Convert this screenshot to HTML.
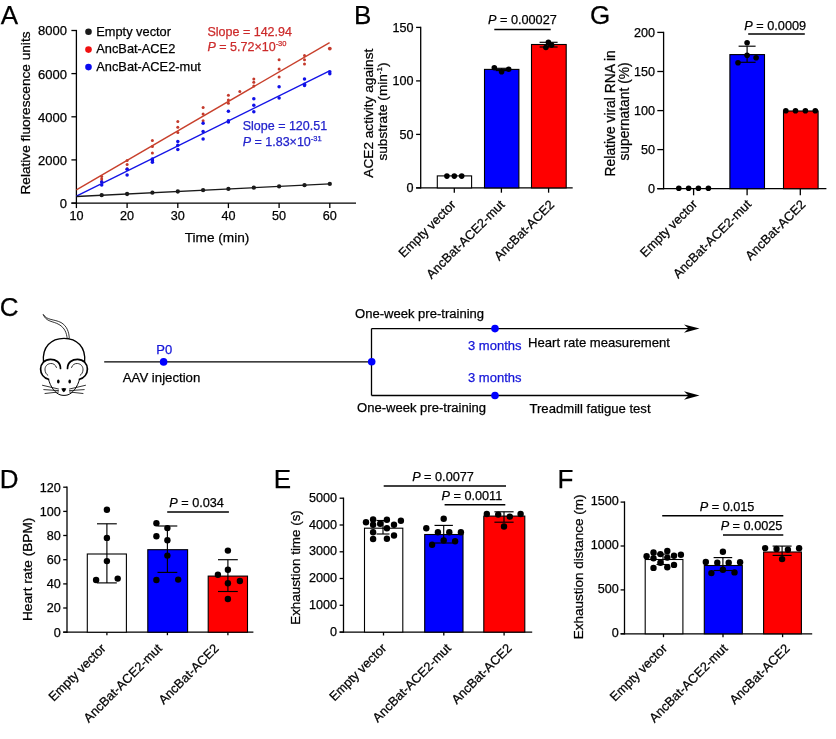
<!DOCTYPE html>
<html lang="en"><head><meta charset="utf-8"><title>Figure</title>
<style>
html,body{margin:0;padding:0;background:#fff;}
body{width:836px;height:739px;overflow:hidden;}
svg{display:block;font-family:"Liberation Sans",sans-serif;}
svg text{stroke-width:0.25px;paint-order:stroke fill;}
</style></head><body>
<svg width="836" height="739" viewBox="0 0 836 739">
<rect x="0" y="0" width="836" height="739" fill="#fff"/>
<text x="0.8" y="23.8" font-size="26" text-anchor="start" fill="#000" stroke="#000" >A</text>
<line x1="76.4" y1="29.9" x2="76.4" y2="203.8" stroke="#000" stroke-width="1.3" />
<line x1="71.4" y1="203.1" x2="76.4" y2="203.1" stroke="#000" stroke-width="1.3" />
<text x="66.9" y="208.0" font-size="13.0" text-anchor="end" fill="#000" stroke="#000" >0</text>
<line x1="71.4" y1="159.9" x2="76.4" y2="159.9" stroke="#000" stroke-width="1.3" />
<text x="66.9" y="164.8" font-size="13.0" text-anchor="end" fill="#000" stroke="#000" >2000</text>
<line x1="71.4" y1="116.8" x2="76.4" y2="116.8" stroke="#000" stroke-width="1.3" />
<text x="66.9" y="121.7" font-size="13.0" text-anchor="end" fill="#000" stroke="#000" >4000</text>
<line x1="71.4" y1="73.6" x2="76.4" y2="73.6" stroke="#000" stroke-width="1.3" />
<text x="66.9" y="78.5" font-size="13.0" text-anchor="end" fill="#000" stroke="#000" >6000</text>
<line x1="71.4" y1="30.5" x2="76.4" y2="30.5" stroke="#000" stroke-width="1.3" />
<text x="66.9" y="35.4" font-size="13.0" text-anchor="end" fill="#000" stroke="#000" >8000</text>
<line x1="71.4" y1="203.1" x2="356.0" y2="203.1" stroke="#000" stroke-width="1.3" />
<line x1="76.4" y1="203.1" x2="76.4" y2="208.1" stroke="#000" stroke-width="1.3" />
<text x="76.4" y="220.0" font-size="12.6" text-anchor="middle" fill="#000" stroke="#000" >10</text>
<line x1="127.1" y1="203.1" x2="127.1" y2="208.1" stroke="#000" stroke-width="1.3" />
<text x="127.1" y="220.0" font-size="12.6" text-anchor="middle" fill="#000" stroke="#000" >20</text>
<line x1="177.8" y1="203.1" x2="177.8" y2="208.1" stroke="#000" stroke-width="1.3" />
<text x="177.8" y="220.0" font-size="12.6" text-anchor="middle" fill="#000" stroke="#000" >30</text>
<line x1="228.4" y1="203.1" x2="228.4" y2="208.1" stroke="#000" stroke-width="1.3" />
<text x="228.4" y="220.0" font-size="12.6" text-anchor="middle" fill="#000" stroke="#000" >40</text>
<line x1="279.1" y1="203.1" x2="279.1" y2="208.1" stroke="#000" stroke-width="1.3" />
<text x="279.1" y="220.0" font-size="12.6" text-anchor="middle" fill="#000" stroke="#000" >50</text>
<line x1="329.8" y1="203.1" x2="329.8" y2="208.1" stroke="#000" stroke-width="1.3" />
<text x="329.8" y="220.0" font-size="12.6" text-anchor="middle" fill="#000" stroke="#000" >60</text>
<text x="217.0" y="241.5" font-size="13.65" text-anchor="middle" fill="#000" stroke="#000" >Time (min)</text>
<text transform="translate(30.0,113.0) rotate(-90)" font-size="13.65" text-anchor="middle" fill="#000" stroke="#000">Relative fluorescence units</text>
<circle cx="88.5" cy="31.8" r="3.3" fill="#1a1a1a"/>
<text x="96.3" y="36.3" font-size="12.8" text-anchor="start" fill="#000" stroke="#000" >Empty vector</text>
<circle cx="88.5" cy="49.6" r="3.3" fill="#f01010"/>
<text x="96.3" y="53.1" font-size="12.8" text-anchor="start" fill="#000" stroke="#000" >AncBat-ACE2</text>
<circle cx="88.5" cy="67.1" r="3.3" fill="#0a0af0"/>
<text x="96.3" y="70.6" font-size="12.8" text-anchor="start" fill="#000" stroke="#000" >AncBat-ACE2-mut</text>
<circle cx="101.7" cy="176.4" r="1.5" fill="#c43a2c"/>
<circle cx="101.7" cy="179.0" r="1.5" fill="#c43a2c"/>
<circle cx="101.7" cy="181.6" r="1.5" fill="#c43a2c"/>
<circle cx="127.1" cy="160.5" r="1.5" fill="#c43a2c"/>
<circle cx="127.1" cy="164.6" r="1.5" fill="#c43a2c"/>
<circle cx="127.1" cy="168.7" r="1.5" fill="#c43a2c"/>
<circle cx="152.4" cy="140.4" r="1.5" fill="#c43a2c"/>
<circle cx="152.4" cy="146.6" r="1.5" fill="#c43a2c"/>
<circle cx="152.4" cy="153.0" r="1.5" fill="#c43a2c"/>
<circle cx="177.8" cy="121.4" r="1.5" fill="#c43a2c"/>
<circle cx="177.8" cy="127.3" r="1.5" fill="#c43a2c"/>
<circle cx="177.8" cy="132.4" r="1.5" fill="#c43a2c"/>
<circle cx="203.1" cy="107.5" r="1.5" fill="#c43a2c"/>
<circle cx="203.1" cy="113.9" r="1.5" fill="#c43a2c"/>
<circle cx="203.1" cy="120.8" r="1.5" fill="#c43a2c"/>
<circle cx="228.4" cy="95.2" r="1.5" fill="#c43a2c"/>
<circle cx="228.4" cy="100.0" r="1.5" fill="#c43a2c"/>
<circle cx="228.4" cy="103.3" r="1.5" fill="#c43a2c"/>
<circle cx="253.8" cy="78.9" r="1.5" fill="#c43a2c"/>
<circle cx="253.8" cy="82.3" r="1.5" fill="#c43a2c"/>
<circle cx="253.8" cy="86.1" r="1.5" fill="#c43a2c"/>
<circle cx="279.1" cy="59.8" r="1.5" fill="#c43a2c"/>
<circle cx="279.1" cy="68.9" r="1.5" fill="#c43a2c"/>
<circle cx="279.1" cy="77.0" r="1.5" fill="#c43a2c"/>
<circle cx="304.5" cy="55.5" r="1.5" fill="#c43a2c"/>
<circle cx="304.5" cy="59.8" r="1.5" fill="#c43a2c"/>
<circle cx="304.5" cy="63.9" r="1.5" fill="#c43a2c"/>
<circle cx="239.8" cy="91.6" r="1.5" fill="#c43a2c"/>
<circle cx="329.8" cy="48.6" r="1.9" fill="#c43a2c"/>
<circle cx="101.7" cy="182.1" r="1.75" fill="#1010e8"/>
<circle cx="101.7" cy="184.9" r="1.75" fill="#1010e8"/>
<circle cx="127.1" cy="169.2" r="1.75" fill="#1010e8"/>
<circle cx="127.1" cy="174.9" r="1.75" fill="#1010e8"/>
<circle cx="152.4" cy="158.9" r="1.75" fill="#1010e8"/>
<circle cx="152.4" cy="160.7" r="1.75" fill="#1010e8"/>
<circle cx="152.4" cy="162.3" r="1.75" fill="#1010e8"/>
<circle cx="177.8" cy="141.4" r="1.75" fill="#1010e8"/>
<circle cx="177.8" cy="145.3" r="1.75" fill="#1010e8"/>
<circle cx="177.8" cy="149.4" r="1.75" fill="#1010e8"/>
<circle cx="203.1" cy="123.2" r="1.75" fill="#1010e8"/>
<circle cx="203.1" cy="131.4" r="1.75" fill="#1010e8"/>
<circle cx="203.1" cy="138.9" r="1.75" fill="#1010e8"/>
<circle cx="228.4" cy="111.2" r="1.75" fill="#1010e8"/>
<circle cx="228.4" cy="120.8" r="1.75" fill="#1010e8"/>
<circle cx="228.4" cy="122.0" r="1.75" fill="#1010e8"/>
<circle cx="253.8" cy="98.8" r="1.75" fill="#1010e8"/>
<circle cx="253.8" cy="105.3" r="1.75" fill="#1010e8"/>
<circle cx="253.8" cy="111.7" r="1.75" fill="#1010e8"/>
<circle cx="279.1" cy="86.8" r="1.75" fill="#1010e8"/>
<circle cx="279.1" cy="98.1" r="1.75" fill="#1010e8"/>
<circle cx="304.5" cy="78.9" r="1.75" fill="#1010e8"/>
<circle cx="304.5" cy="84.2" r="1.75" fill="#1010e8"/>
<circle cx="304.5" cy="85.6" r="1.75" fill="#1010e8"/>
<circle cx="329.8" cy="71.8" r="1.75" fill="#1010e8"/>
<circle cx="329.8" cy="73.7" r="1.75" fill="#1010e8"/>
<line x1="76.4" y1="189.8" x2="329.6" y2="42.6" stroke="#c8402c" stroke-width="1.4" />
<line x1="76.4" y1="196.2" x2="329.6" y2="70.8" stroke="#1414e6" stroke-width="1.4" />
<line x1="76.4" y1="196.5" x2="329.8" y2="183.9" stroke="#1a1a1a" stroke-width="1.3" />
<circle cx="101.7" cy="195.2" r="2.15" fill="#1a1a1a"/>
<circle cx="127.1" cy="194.0" r="2.15" fill="#1a1a1a"/>
<circle cx="152.4" cy="192.7" r="2.15" fill="#1a1a1a"/>
<circle cx="177.8" cy="191.5" r="2.15" fill="#1a1a1a"/>
<circle cx="203.1" cy="190.2" r="2.15" fill="#1a1a1a"/>
<circle cx="228.4" cy="188.9" r="2.15" fill="#1a1a1a"/>
<circle cx="253.8" cy="187.7" r="2.15" fill="#1a1a1a"/>
<circle cx="279.1" cy="186.4" r="2.15" fill="#1a1a1a"/>
<circle cx="304.5" cy="185.2" r="2.15" fill="#1a1a1a"/>
<circle cx="329.8" cy="183.9" r="2.15" fill="#1a1a1a"/>
<text x="207.5" y="36.1" font-size="12.5" text-anchor="start" fill="#cc2a2a" stroke="#cc2a2a" >Slope = 142.94</text>
<text x="207.5" y="51.2" font-size="12.5" fill="#cc2a2a" stroke="#cc2a2a"><tspan font-style="italic">P</tspan> = 5.72×10<tspan font-size="7.5" dy="-5">-30</tspan></text>
<text x="242.7" y="129.9" font-size="12.5" text-anchor="start" fill="#2222cc" stroke="#2222cc" >Slope = 120.51</text>
<text x="242.7" y="145.7" font-size="12.5" fill="#2222cc" stroke="#2222cc"><tspan font-style="italic">P</tspan> = 1.83×10<tspan font-size="7.5" dy="-5">-31</tspan></text>
<text x="353.9" y="23.8" font-size="26" text-anchor="start" fill="#000" stroke="#000" >B</text>
<line x1="420.7" y1="26.8" x2="420.7" y2="188.6" stroke="#000" stroke-width="1.3" />
<line x1="416.1" y1="187.9" x2="420.7" y2="187.9" stroke="#000" stroke-width="1.3" />
<text x="413.5" y="192.3" font-size="12.6" text-anchor="end" fill="#000" stroke="#000" >0</text>
<line x1="416.1" y1="134.4" x2="420.7" y2="134.4" stroke="#000" stroke-width="1.3" />
<text x="413.5" y="138.8" font-size="12.6" text-anchor="end" fill="#000" stroke="#000" >50</text>
<line x1="416.1" y1="80.9" x2="420.7" y2="80.9" stroke="#000" stroke-width="1.3" />
<text x="413.5" y="85.3" font-size="12.6" text-anchor="end" fill="#000" stroke="#000" >100</text>
<line x1="416.1" y1="27.4" x2="420.7" y2="27.4" stroke="#000" stroke-width="1.3" />
<text x="413.5" y="31.8" font-size="12.6" text-anchor="end" fill="#000" stroke="#000" >150</text>
<line x1="416.1" y1="187.9" x2="572.7" y2="187.9" stroke="#000" stroke-width="1.3" />
<line x1="454.3" y1="187.9" x2="454.3" y2="192.7" stroke="#000" stroke-width="1.3" />
<line x1="501.4" y1="187.9" x2="501.4" y2="192.7" stroke="#000" stroke-width="1.3" />
<line x1="548.6" y1="187.9" x2="548.6" y2="192.7" stroke="#000" stroke-width="1.3" />
<rect x="437.3" y="175.9" width="34.3" height="12.0" fill="#fff" stroke="#000" stroke-width="1.1"/>
<rect x="484.5" y="69.4" width="34.4" height="118.5" fill="#0000ff" stroke="#000" stroke-width="1.1"/>
<rect x="531.5" y="44.5" width="34.7" height="143.4" fill="#ff0000" stroke="#000" stroke-width="1.1"/>
<circle cx="446.9" cy="176.1" r="2.8" fill="#000"/>
<circle cx="454.3" cy="176.1" r="2.8" fill="#000"/>
<circle cx="461.7" cy="176.1" r="2.8" fill="#000"/>
<line x1="501.6" y1="68.3" x2="501.6" y2="70.6" stroke="#000" stroke-width="1.15" />
<line x1="495.6" y1="68.3" x2="507.6" y2="68.3" stroke="#000" stroke-width="1.15" />
<line x1="495.6" y1="70.6" x2="507.6" y2="70.6" stroke="#000" stroke-width="1.15" />
<circle cx="494.3" cy="67.7" r="2.8" fill="#000"/>
<circle cx="501.6" cy="71.8" r="2.8" fill="#000"/>
<circle cx="508.7" cy="69.2" r="2.8" fill="#000"/>
<line x1="548.6" y1="42.3" x2="548.6" y2="47.0" stroke="#000" stroke-width="1.15" />
<line x1="539.6" y1="42.3" x2="557.6" y2="42.3" stroke="#000" stroke-width="1.15" />
<line x1="539.6" y1="47.0" x2="557.6" y2="47.0" stroke="#000" stroke-width="1.15" />
<circle cx="548.4" cy="42.3" r="2.8" fill="#000"/>
<circle cx="551.6" cy="45.1" r="2.8" fill="#000"/>
<circle cx="545.9" cy="47.5" r="2.8" fill="#000"/>
<line x1="494.3" y1="29.4" x2="550.7" y2="29.4" stroke="#000" stroke-width="1.5" />
<text x="522.4" y="23.6" font-size="12.7" text-anchor="middle" fill="#000" stroke="#000"><tspan font-style="italic">P</tspan> = 0.00027</text>
<text transform="translate(456.6,205.5) rotate(-45)" font-size="12.8" text-anchor="end" fill="#000" stroke="#000">Empty vector</text>
<text transform="translate(505.4,205.5) rotate(-45)" font-size="12.8" text-anchor="end" fill="#000" stroke="#000">AncBat-ACE2-mut</text>
<text transform="translate(555.1,205.5) rotate(-45)" font-size="12.8" text-anchor="end" fill="#000" stroke="#000">AncBat-ACE2</text>
<text transform="translate(372.6,113.2) rotate(-90)" font-size="13.65" text-anchor="middle" fill="#000" stroke="#000">ACE2 activity against</text>
<text transform="translate(387.2,111.5) rotate(-90)" font-size="13.65" text-anchor="middle" fill="#000" stroke="#000">substrate (min<tspan font-size="8" dy="-5">-1</tspan><tspan dy="5">)</tspan></text>
<text x="589.9" y="24.0" font-size="26" text-anchor="start" fill="#000" stroke="#000" >G</text>
<line x1="663.6" y1="31.8" x2="663.6" y2="189.3" stroke="#000" stroke-width="1.3" />
<line x1="657.3" y1="188.7" x2="663.6" y2="188.7" stroke="#000" stroke-width="1.3" />
<text x="655.0" y="193.0" font-size="12.6" text-anchor="end" fill="#000" stroke="#000" >0</text>
<line x1="657.3" y1="149.6" x2="663.6" y2="149.6" stroke="#000" stroke-width="1.3" />
<text x="655.0" y="153.9" font-size="12.6" text-anchor="end" fill="#000" stroke="#000" >50</text>
<line x1="657.3" y1="110.6" x2="663.6" y2="110.6" stroke="#000" stroke-width="1.3" />
<text x="655.0" y="114.9" font-size="12.6" text-anchor="end" fill="#000" stroke="#000" >100</text>
<line x1="657.3" y1="71.5" x2="663.6" y2="71.5" stroke="#000" stroke-width="1.3" />
<text x="655.0" y="75.8" font-size="12.6" text-anchor="end" fill="#000" stroke="#000" >150</text>
<line x1="657.3" y1="32.4" x2="663.6" y2="32.4" stroke="#000" stroke-width="1.3" />
<text x="655.0" y="36.7" font-size="12.6" text-anchor="end" fill="#000" stroke="#000" >200</text>
<line x1="657.3" y1="188.7" x2="826.4" y2="188.7" stroke="#000" stroke-width="1.3" />
<line x1="693.6" y1="188.7" x2="693.6" y2="195.3" stroke="#000" stroke-width="1.3" />
<line x1="747.1" y1="188.7" x2="747.1" y2="195.3" stroke="#000" stroke-width="1.3" />
<line x1="800.3" y1="188.7" x2="800.3" y2="195.3" stroke="#000" stroke-width="1.3" />
<rect x="729.9" y="54.6" width="34.6" height="134.1" fill="#0000ff" stroke="#000" stroke-width="1.1"/>
<rect x="783.5" y="111.0" width="34.6" height="77.7" fill="#ff0000" stroke="#000" stroke-width="1.1"/>
<circle cx="678.8" cy="188.2" r="2.8" fill="#000"/>
<circle cx="688.6" cy="188.2" r="2.8" fill="#000"/>
<circle cx="698.4" cy="188.2" r="2.8" fill="#000"/>
<circle cx="708.4" cy="188.2" r="2.8" fill="#000"/>
<line x1="747.1" y1="46.2" x2="747.1" y2="62.3" stroke="#000" stroke-width="1.15" />
<line x1="738.6" y1="46.2" x2="755.6" y2="46.2" stroke="#000" stroke-width="1.15" />
<line x1="738.6" y1="62.3" x2="755.6" y2="62.3" stroke="#000" stroke-width="1.15" />
<circle cx="747.1" cy="42.7" r="2.8" fill="#000"/>
<circle cx="747.1" cy="55.2" r="2.8" fill="#000"/>
<circle cx="756.1" cy="57.8" r="2.8" fill="#000"/>
<circle cx="738.0" cy="62.8" r="2.8" fill="#000"/>
<circle cx="785.8" cy="110.8" r="2.8" fill="#000"/>
<circle cx="795.5" cy="110.8" r="2.8" fill="#000"/>
<circle cx="805.4" cy="110.8" r="2.8" fill="#000"/>
<circle cx="815.3" cy="110.8" r="2.8" fill="#000"/>
<line x1="748.2" y1="33.9" x2="804.8" y2="33.9" stroke="#000" stroke-width="1.5" />
<text x="775.2" y="30.3" font-size="12.7" text-anchor="middle" fill="#000" stroke="#000"><tspan font-style="italic">P</tspan> = 0.0009</text>
<text transform="translate(698.0,205.1) rotate(-45)" font-size="12.8" text-anchor="end" fill="#000" stroke="#000">Empty vector</text>
<text transform="translate(752.1,205.1) rotate(-45)" font-size="12.8" text-anchor="end" fill="#000" stroke="#000">AncBat-ACE2-mut</text>
<text transform="translate(806.3,205.1) rotate(-45)" font-size="12.8" text-anchor="end" fill="#000" stroke="#000">AncBat-ACE2</text>
<text transform="translate(615.4,113.3) rotate(-90)" font-size="13.85" text-anchor="middle" fill="#000" stroke="#000">Relative viral RNA in</text>
<text transform="translate(628.6,111.5) rotate(-90)" font-size="13.8" text-anchor="middle" fill="#000" stroke="#000">supernatant (%)</text>
<text x="-0.2" y="316.2" font-size="26" text-anchor="start" fill="#000" stroke="#000" >C</text>
<line x1="104.2" y1="361.9" x2="371.5" y2="361.9" stroke="#000" stroke-width="1.3" />
<line x1="371.5" y1="328.6" x2="371.5" y2="395.5" stroke="#000" stroke-width="1.3" />
<line x1="371.5" y1="328.6" x2="690.0" y2="328.6" stroke="#000" stroke-width="1.3" />
<line x1="371.5" y1="395.5" x2="690.0" y2="395.5" stroke="#000" stroke-width="1.3" />
<path d="M699.5 328.6 L684 324.40000000000003 L688.5 328.6 L684 332.8 Z" fill="#000"/>
<path d="M699.5 395.5 L684 391.3 L688.5 395.5 L684 399.7 Z" fill="#000"/>
<circle cx="163.6" cy="361.9" r="3.8" fill="#0000ff"/>
<circle cx="371.7" cy="361.7" r="3.8" fill="#0000ff"/>
<circle cx="495.0" cy="328.6" r="3.8" fill="#0000ff"/>
<circle cx="495.0" cy="395.5" r="3.8" fill="#0000ff"/>
<text x="164.2" y="353.7" font-size="13" text-anchor="middle" fill="#1414d8" stroke="#1414d8" >P0</text>
<text x="122.8" y="381.8" font-size="13.2" text-anchor="start" fill="#000" stroke="#000" >AAV injection</text>
<text x="355.0" y="318.0" font-size="13.05" text-anchor="start" fill="#000" stroke="#000" >One-week pre-training</text>
<text x="357.0" y="412.0" font-size="13.05" text-anchor="start" fill="#000" stroke="#000" >One-week pre-training</text>
<text x="468.0" y="350.0" font-size="13" text-anchor="start" fill="#1414d8" stroke="#1414d8" >3 months</text>
<text x="468.0" y="381.5" font-size="13" text-anchor="start" fill="#1414d8" stroke="#1414d8" >3 months</text>
<text x="528.0" y="346.5" font-size="13.1" text-anchor="start" fill="#000" stroke="#000" >Heart rate measurement</text>
<text x="529.5" y="412.8" font-size="13.1" text-anchor="start" fill="#000" stroke="#000" >Treadmill fatigue test</text>
<g fill="none" stroke="#000" stroke-width="1.1" stroke-linecap="round" stroke-linejoin="round">
<path d="M43.4 314.8 C46 322 53 321 59 324.5 C65 328 66.5 333 67.2 338.5 L69.3 338.5 C69 332 67 326 61 322.5 C54 319 47 320.5 43.4 314.8 Z" stroke-width="0.8"/>
<path d="M43.5 362 C42 347 51 338.3 64 338.3 C77 338.3 86 347 84.6 362" stroke-width="1.3"/>
<path d="M60.5 368.5 C60.5 362 55.5 359.3 50.5 359.3 C44.5 359.3 40.6 364 40.6 369 C40.6 374 43.8 378 48.5 379.3" stroke-width="1.7"/>
<path d="M67.5 368.5 C67.5 362 72.5 359.3 77.5 359.3 C83.5 359.3 87.4 364 87.4 369 C87.4 374 84.2 378 79.5 379.3" stroke-width="1.7"/>
<path d="M56.5 367.5 C55.5 364.5 53 363.3 50.6 363.5 C47 363.8 44.8 366.5 45 370 C45.2 372.5 46.3 374.3 47.8 375.3" stroke-width="0.8"/>
<path d="M71.5 367.5 C72.5 364.5 75 363.3 77.4 363.5 C81 363.8 83.2 366.5 83 370 C82.800 372.5 81.7 374.3 80.2 375.3" stroke-width="0.8"/>
<path d="M48.5 379.3 C50.5 387 55 393 60 394.8 C62.5 395.6 65.5 395.6 68 394.8 C73 393 77.500 387 79.5 379.3" stroke-width="1"/>
<path d="M42.5 385.3 L58.5 389 M43.8 389.6 L58.5 390.6 M45 393.5 L58.5 392" stroke-width="0.8"/>
<path d="M85.5 385.3 L69.5 389 M84.2 389.6 L69.5 390.6 M83 393.5 L69.5 392" stroke-width="0.8"/>
</g>
<ellipse cx="58.3" cy="381.4" rx="1.3" ry="2" fill="#000"/><ellipse cx="69.7" cy="381.4" rx="1.3" ry="2" fill="#000"/>
<path d="M61.3 388.6 Q63.8 387.6 66.300 388.6 Q65.300 391.8 63.8 392.200 Q62.3 391.8 61.3 388.6 Z" fill="#000"/>
<text x="-0.2" y="488.1" font-size="26" text-anchor="start" fill="#000" stroke="#000" >D</text>
<line x1="67.0" y1="486.6" x2="67.0" y2="632.9" stroke="#000" stroke-width="1.3" />
<line x1="63.2" y1="632.2" x2="67.0" y2="632.2" stroke="#000" stroke-width="1.3" />
<text x="60.8" y="636.6" font-size="12.6" text-anchor="end" fill="#000" stroke="#000" >0</text>
<line x1="63.2" y1="608.0" x2="67.0" y2="608.0" stroke="#000" stroke-width="1.3" />
<text x="60.8" y="612.4" font-size="12.6" text-anchor="end" fill="#000" stroke="#000" >20</text>
<line x1="63.2" y1="583.9" x2="67.0" y2="583.9" stroke="#000" stroke-width="1.3" />
<text x="60.8" y="588.3" font-size="12.6" text-anchor="end" fill="#000" stroke="#000" >40</text>
<line x1="63.2" y1="559.7" x2="67.0" y2="559.7" stroke="#000" stroke-width="1.3" />
<text x="60.8" y="564.1" font-size="12.6" text-anchor="end" fill="#000" stroke="#000" >60</text>
<line x1="63.2" y1="535.5" x2="67.0" y2="535.5" stroke="#000" stroke-width="1.3" />
<text x="60.8" y="539.9" font-size="12.6" text-anchor="end" fill="#000" stroke="#000" >80</text>
<line x1="63.2" y1="511.4" x2="67.0" y2="511.4" stroke="#000" stroke-width="1.3" />
<text x="60.8" y="515.8" font-size="12.6" text-anchor="end" fill="#000" stroke="#000" >100</text>
<line x1="63.2" y1="487.2" x2="67.0" y2="487.2" stroke="#000" stroke-width="1.3" />
<text x="60.8" y="491.6" font-size="12.6" text-anchor="end" fill="#000" stroke="#000" >120</text>
<line x1="63.2" y1="632.2" x2="253.4" y2="632.2" stroke="#000" stroke-width="1.3" />
<line x1="106.9" y1="632.2" x2="106.9" y2="635.2" stroke="#000" stroke-width="1.3" />
<line x1="167.4" y1="632.2" x2="167.4" y2="635.2" stroke="#000" stroke-width="1.3" />
<line x1="227.9" y1="632.2" x2="227.9" y2="635.2" stroke="#000" stroke-width="1.3" />
<rect x="87.3" y="554.0" width="39.1" height="78.2" fill="#fff" stroke="#000" stroke-width="1.1"/>
<rect x="147.8" y="549.7" width="39.8" height="82.5" fill="#0000ff" stroke="#000" stroke-width="1.1"/>
<rect x="208.2" y="576.1" width="39.3" height="56.1" fill="#ff0000" stroke="#000" stroke-width="1.1"/>
<line x1="106.9" y1="523.8" x2="106.9" y2="582.9" stroke="#000" stroke-width="1.15" />
<line x1="97.0" y1="523.8" x2="116.8" y2="523.8" stroke="#000" stroke-width="1.15" />
<line x1="97.0" y1="582.9" x2="116.8" y2="582.9" stroke="#000" stroke-width="1.15" />
<line x1="167.4" y1="526.0" x2="167.4" y2="572.4" stroke="#000" stroke-width="1.15" />
<line x1="157.5" y1="526.0" x2="177.3" y2="526.0" stroke="#000" stroke-width="1.15" />
<line x1="157.5" y1="572.4" x2="177.3" y2="572.4" stroke="#000" stroke-width="1.15" />
<line x1="227.9" y1="559.7" x2="227.9" y2="591.5" stroke="#000" stroke-width="1.15" />
<line x1="218.0" y1="559.7" x2="237.8" y2="559.7" stroke="#000" stroke-width="1.15" />
<line x1="218.0" y1="591.5" x2="237.8" y2="591.5" stroke="#000" stroke-width="1.15" />
<circle cx="106.9" cy="509.7" r="3.2" fill="#000"/>
<circle cx="106.9" cy="537.9" r="3.2" fill="#000"/>
<circle cx="106.9" cy="561.1" r="3.2" fill="#000"/>
<circle cx="96.1" cy="580.0" r="3.2" fill="#000"/>
<circle cx="117.7" cy="578.6" r="3.2" fill="#000"/>
<circle cx="156.4" cy="523.3" r="3.2" fill="#000"/>
<circle cx="167.4" cy="528.1" r="3.2" fill="#000"/>
<circle cx="156.4" cy="536.3" r="3.2" fill="#000"/>
<circle cx="167.4" cy="540.3" r="3.2" fill="#000"/>
<circle cx="167.4" cy="555.6" r="3.2" fill="#000"/>
<circle cx="156.4" cy="580.0" r="3.2" fill="#000"/>
<circle cx="178.2" cy="579.6" r="3.2" fill="#000"/>
<circle cx="227.9" cy="550.6" r="3.2" fill="#000"/>
<circle cx="227.9" cy="569.8" r="3.2" fill="#000"/>
<circle cx="217.9" cy="574.8" r="3.2" fill="#000"/>
<circle cx="239.9" cy="581.0" r="3.2" fill="#000"/>
<circle cx="227.9" cy="583.2" r="3.2" fill="#000"/>
<circle cx="227.9" cy="599.0" r="3.2" fill="#000"/>
<line x1="167.2" y1="512.1" x2="228.9" y2="512.1" stroke="#000" stroke-width="1.5" />
<text x="196.6" y="507.0" font-size="12.7" text-anchor="middle" fill="#000" stroke="#000"><tspan font-style="italic">P</tspan> = 0.034</text>
<text transform="translate(106.6,649.2) rotate(-45)" font-size="12.8" text-anchor="end" fill="#000" stroke="#000">Empty vector</text>
<text transform="translate(162.8,649.2) rotate(-45)" font-size="12.8" text-anchor="end" fill="#000" stroke="#000">AncBat-ACE2-mut</text>
<text transform="translate(219.6,649.2) rotate(-45)" font-size="12.8" text-anchor="end" fill="#000" stroke="#000">AncBat-ACE2</text>
<text transform="translate(32.0,569.3) rotate(-90)" font-size="13.7" text-anchor="middle" fill="#000" stroke="#000">Heart rate (BPM)</text>
<text x="273.7" y="488.1" font-size="26" text-anchor="start" fill="#000" stroke="#000" >E</text>
<line x1="343.5" y1="497.6" x2="343.5" y2="632.8" stroke="#000" stroke-width="1.3" />
<line x1="339.6" y1="632.1" x2="343.5" y2="632.1" stroke="#000" stroke-width="1.3" />
<text x="337.0" y="635.7" font-size="12.6" text-anchor="end" fill="#000" stroke="#000" >0</text>
<line x1="339.6" y1="605.3" x2="343.5" y2="605.3" stroke="#000" stroke-width="1.3" />
<text x="337.0" y="608.9" font-size="12.6" text-anchor="end" fill="#000" stroke="#000" >1000</text>
<line x1="339.6" y1="578.5" x2="343.5" y2="578.5" stroke="#000" stroke-width="1.3" />
<text x="337.0" y="582.1" font-size="12.6" text-anchor="end" fill="#000" stroke="#000" >2000</text>
<line x1="339.6" y1="551.8" x2="343.5" y2="551.8" stroke="#000" stroke-width="1.3" />
<text x="337.0" y="555.4" font-size="12.6" text-anchor="end" fill="#000" stroke="#000" >3000</text>
<line x1="339.6" y1="525.0" x2="343.5" y2="525.0" stroke="#000" stroke-width="1.3" />
<text x="337.0" y="528.6" font-size="12.6" text-anchor="end" fill="#000" stroke="#000" >4000</text>
<line x1="339.6" y1="498.2" x2="343.5" y2="498.2" stroke="#000" stroke-width="1.3" />
<text x="337.0" y="501.8" font-size="12.6" text-anchor="end" fill="#000" stroke="#000" >5000</text>
<line x1="339.6" y1="632.1" x2="532.2" y2="632.1" stroke="#000" stroke-width="1.3" />
<line x1="383.5" y1="632.1" x2="383.5" y2="635.5" stroke="#000" stroke-width="1.3" />
<line x1="443.8" y1="632.1" x2="443.8" y2="635.5" stroke="#000" stroke-width="1.3" />
<line x1="504.1" y1="632.1" x2="504.1" y2="635.5" stroke="#000" stroke-width="1.3" />
<rect x="364.5" y="528.2" width="38.3" height="103.9" fill="#fff" stroke="#000" stroke-width="1.1"/>
<rect x="424.7" y="534.5" width="38.3" height="97.6" fill="#0000ff" stroke="#000" stroke-width="1.1"/>
<rect x="483.8" y="516.1" width="41.0" height="116.0" fill="#ff0000" stroke="#000" stroke-width="1.1"/>
<line x1="383.0" y1="520.5" x2="383.0" y2="534.0" stroke="#000" stroke-width="1.15" />
<line x1="376.5" y1="520.5" x2="389.5" y2="520.5" stroke="#000" stroke-width="1.15" />
<line x1="376.5" y1="534.0" x2="389.5" y2="534.0" stroke="#000" stroke-width="1.15" />
<line x1="443.7" y1="525.4" x2="443.7" y2="543.0" stroke="#000" stroke-width="1.15" />
<line x1="434.5" y1="525.4" x2="452.9" y2="525.4" stroke="#000" stroke-width="1.15" />
<line x1="434.5" y1="543.0" x2="452.9" y2="543.0" stroke="#000" stroke-width="1.15" />
<line x1="504.0" y1="511.8" x2="504.0" y2="522.2" stroke="#000" stroke-width="1.15" />
<line x1="494.4" y1="511.8" x2="513.6" y2="511.8" stroke="#000" stroke-width="1.15" />
<line x1="494.4" y1="522.2" x2="513.6" y2="522.2" stroke="#000" stroke-width="1.15" />
<circle cx="366.0" cy="522.2" r="3.2" fill="#000"/>
<circle cx="373.1" cy="519.4" r="3.2" fill="#000"/>
<circle cx="386.9" cy="519.8" r="3.2" fill="#000"/>
<circle cx="400.9" cy="520.7" r="3.2" fill="#000"/>
<circle cx="373.1" cy="524.8" r="3.2" fill="#000"/>
<circle cx="380.2" cy="523.7" r="3.2" fill="#000"/>
<circle cx="394.0" cy="524.8" r="3.2" fill="#000"/>
<circle cx="386.9" cy="528.2" r="3.2" fill="#000"/>
<circle cx="373.1" cy="532.3" r="3.2" fill="#000"/>
<circle cx="394.0" cy="535.5" r="3.2" fill="#000"/>
<circle cx="373.1" cy="539.0" r="3.2" fill="#000"/>
<circle cx="386.9" cy="538.8" r="3.2" fill="#000"/>
<circle cx="443.7" cy="518.7" r="3.2" fill="#000"/>
<circle cx="426.3" cy="528.2" r="3.2" fill="#000"/>
<circle cx="437.9" cy="532.3" r="3.2" fill="#000"/>
<circle cx="449.3" cy="532.3" r="3.2" fill="#000"/>
<circle cx="460.9" cy="532.3" r="3.2" fill="#000"/>
<circle cx="443.7" cy="540.5" r="3.2" fill="#000"/>
<circle cx="455.1" cy="541.3" r="3.2" fill="#000"/>
<circle cx="432.1" cy="544.8" r="3.2" fill="#000"/>
<circle cx="486.8" cy="514.0" r="3.2" fill="#000"/>
<circle cx="498.2" cy="514.6" r="3.2" fill="#000"/>
<circle cx="509.8" cy="516.6" r="3.2" fill="#000"/>
<circle cx="520.6" cy="514.0" r="3.2" fill="#000"/>
<circle cx="504.0" cy="526.5" r="3.2" fill="#000"/>
<line x1="383.7" y1="485.9" x2="506.0" y2="485.9" stroke="#000" stroke-width="1.5" />
<line x1="444.6" y1="504.7" x2="505.3" y2="504.7" stroke="#000" stroke-width="1.5" />
<text x="443.0" y="480.8" font-size="12.7" text-anchor="middle" fill="#000" stroke="#000"><tspan font-style="italic">P</tspan> = 0.0077</text>
<text x="471.9" y="499.8" font-size="12.7" text-anchor="middle" fill="#000" stroke="#000"><tspan font-style="italic">P</tspan> = 0.0011</text>
<text transform="translate(387.2,649.0) rotate(-45)" font-size="12.8" text-anchor="end" fill="#000" stroke="#000">Empty vector</text>
<text transform="translate(451.8,649.0) rotate(-45)" font-size="12.8" text-anchor="end" fill="#000" stroke="#000">AncBat-ACE2-mut</text>
<text transform="translate(512.5,649.0) rotate(-45)" font-size="12.8" text-anchor="end" fill="#000" stroke="#000">AncBat-ACE2</text>
<text transform="translate(300.0,567.5) rotate(-90)" font-size="13.4" text-anchor="middle" fill="#000" stroke="#000">Exhaustion time (s)</text>
<text x="557.6" y="488.1" font-size="26" text-anchor="start" fill="#000" stroke="#000" >F</text>
<line x1="624.5" y1="501.4" x2="624.5" y2="634.4" stroke="#000" stroke-width="1.3" />
<line x1="620.6" y1="633.8" x2="624.5" y2="633.8" stroke="#000" stroke-width="1.3" />
<text x="618.8" y="637.1" font-size="12.6" text-anchor="end" fill="#000" stroke="#000" >0</text>
<line x1="620.6" y1="589.9" x2="624.5" y2="589.9" stroke="#000" stroke-width="1.3" />
<text x="618.8" y="593.2" font-size="12.6" text-anchor="end" fill="#000" stroke="#000" >500</text>
<line x1="620.6" y1="546.0" x2="624.5" y2="546.0" stroke="#000" stroke-width="1.3" />
<text x="618.8" y="549.3" font-size="12.6" text-anchor="end" fill="#000" stroke="#000" >1000</text>
<line x1="620.6" y1="502.1" x2="624.5" y2="502.1" stroke="#000" stroke-width="1.3" />
<text x="618.8" y="505.4" font-size="12.6" text-anchor="end" fill="#000" stroke="#000" >1500</text>
<line x1="620.6" y1="633.8" x2="812.2" y2="633.8" stroke="#000" stroke-width="1.3" />
<line x1="663.5" y1="633.8" x2="663.5" y2="637.2" stroke="#000" stroke-width="1.3" />
<line x1="723.0" y1="633.8" x2="723.0" y2="637.2" stroke="#000" stroke-width="1.3" />
<line x1="782.6" y1="633.8" x2="782.6" y2="637.2" stroke="#000" stroke-width="1.3" />
<rect x="645.2" y="559.5" width="37.7" height="74.3" fill="#fff" stroke="#000" stroke-width="1.1"/>
<rect x="704.3" y="565.5" width="38.0" height="68.3" fill="#0000ff" stroke="#000" stroke-width="1.1"/>
<rect x="763.6" y="552.0" width="37.8" height="81.8" fill="#ff0000" stroke="#000" stroke-width="1.1"/>
<line x1="663.0" y1="554.1" x2="663.0" y2="564.5" stroke="#000" stroke-width="1.15" />
<line x1="656.5" y1="554.1" x2="669.5" y2="554.1" stroke="#000" stroke-width="1.15" />
<line x1="656.5" y1="564.5" x2="669.5" y2="564.5" stroke="#000" stroke-width="1.15" />
<line x1="722.9" y1="557.6" x2="722.9" y2="570.5" stroke="#000" stroke-width="1.15" />
<line x1="713.6" y1="557.6" x2="732.2" y2="557.6" stroke="#000" stroke-width="1.15" />
<line x1="713.6" y1="570.5" x2="732.2" y2="570.5" stroke="#000" stroke-width="1.15" />
<line x1="782.1" y1="546.1" x2="782.1" y2="555.4" stroke="#000" stroke-width="1.15" />
<line x1="772.6" y1="546.1" x2="791.6" y2="546.1" stroke="#000" stroke-width="1.15" />
<line x1="772.6" y1="555.4" x2="791.6" y2="555.4" stroke="#000" stroke-width="1.15" />
<circle cx="646.6" cy="556.3" r="3.2" fill="#000"/>
<circle cx="653.5" cy="552.4" r="3.2" fill="#000"/>
<circle cx="667.3" cy="550.9" r="3.2" fill="#000"/>
<circle cx="680.9" cy="554.8" r="3.2" fill="#000"/>
<circle cx="660.4" cy="554.1" r="3.2" fill="#000"/>
<circle cx="674.0" cy="555.8" r="3.2" fill="#000"/>
<circle cx="653.5" cy="558.2" r="3.2" fill="#000"/>
<circle cx="667.3" cy="557.6" r="3.2" fill="#000"/>
<circle cx="660.4" cy="562.7" r="3.2" fill="#000"/>
<circle cx="674.0" cy="564.9" r="3.2" fill="#000"/>
<circle cx="653.5" cy="567.9" r="3.2" fill="#000"/>
<circle cx="667.3" cy="567.3" r="3.2" fill="#000"/>
<circle cx="722.9" cy="551.7" r="3.2" fill="#000"/>
<circle cx="705.8" cy="561.9" r="3.2" fill="#000"/>
<circle cx="717.3" cy="562.7" r="3.2" fill="#000"/>
<circle cx="728.7" cy="562.7" r="3.2" fill="#000"/>
<circle cx="740.1" cy="562.3" r="3.2" fill="#000"/>
<circle cx="722.9" cy="569.8" r="3.2" fill="#000"/>
<circle cx="711.4" cy="573.1" r="3.2" fill="#000"/>
<circle cx="734.5" cy="572.4" r="3.2" fill="#000"/>
<circle cx="765.1" cy="548.1" r="3.2" fill="#000"/>
<circle cx="776.5" cy="548.9" r="3.2" fill="#000"/>
<circle cx="787.9" cy="549.8" r="3.2" fill="#000"/>
<circle cx="799.1" cy="548.3" r="3.2" fill="#000"/>
<circle cx="782.1" cy="559.1" r="3.2" fill="#000"/>
<line x1="662.2" y1="515.7" x2="783.3" y2="515.7" stroke="#000" stroke-width="1.5" />
<line x1="723.0" y1="535.0" x2="783.3" y2="535.0" stroke="#000" stroke-width="1.5" />
<text x="727.1" y="511.1" font-size="12.7" text-anchor="middle" fill="#000" stroke="#000"><tspan font-style="italic">P</tspan> = 0.015</text>
<text x="751.5" y="530.1" font-size="12.7" text-anchor="middle" fill="#000" stroke="#000"><tspan font-style="italic">P</tspan> = 0.0025</text>
<text transform="translate(667.9,649.2) rotate(-45)" font-size="12.8" text-anchor="end" fill="#000" stroke="#000">Empty vector</text>
<text transform="translate(728.4,649.2) rotate(-45)" font-size="12.8" text-anchor="end" fill="#000" stroke="#000">AncBat-ACE2-mut</text>
<text transform="translate(790.6,649.2) rotate(-45)" font-size="12.8" text-anchor="end" fill="#000" stroke="#000">AncBat-ACE2</text>
<text transform="translate(583.0,566.8) rotate(-90)" font-size="13.5" text-anchor="middle" fill="#000" stroke="#000">Exhaustion distance (m)</text>
</svg>
</body></html>
